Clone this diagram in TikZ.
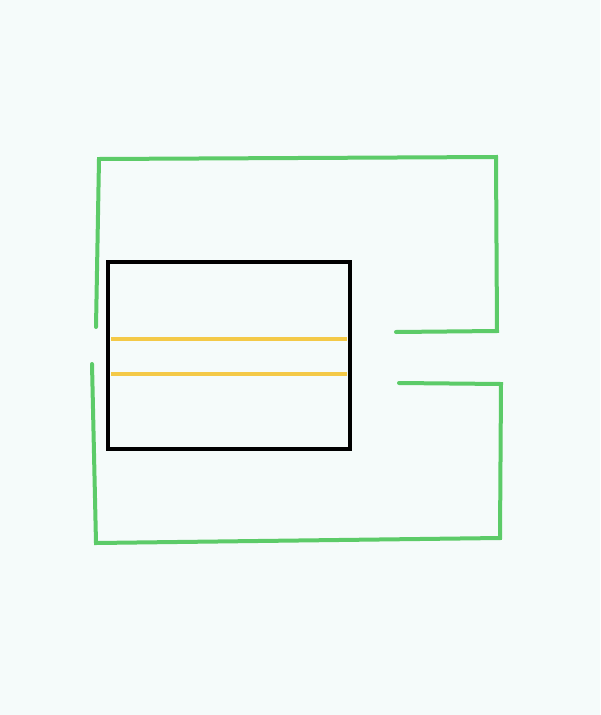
\documentclass[tikz,border=0pt]{standalone}
\begin{document}
\begin{tikzpicture}[x=1pt,y=-1pt,
  wire/.style={draw=wiregreen,line width=4pt,line cap=round,line join=miter},
  core/.style={draw=black,line width=4pt},
  coil/.style={draw=coilyellow,line width=4pt}]
\definecolor{wiregreen}{HTML}{5CCB68}
\definecolor{coilyellow}{HTML}{F4C947}
\definecolor{bg}{HTML}{F5FBFA}
\fill[bg] (0,0) rectangle (600,715);
\useasboundingbox (0,0) rectangle (600,715);
% upper green path
\coordinate (u1) at (96,327);
\coordinate (u2) at (99,159);
\coordinate (u3) at (496,157);
\coordinate (u4) at (497,331);
\coordinate (u5) at (396,332);
\draw[wire] (u1) -- (u2) -- (u3) -- (u4) -- (u5);
% lower green path
\coordinate (l1) at (399,383);
\coordinate (l2) at (501,384);
\coordinate (l3) at (500,538);
\coordinate (l4) at (96,543);
\coordinate (l5) at (92,364);
\draw[wire] (l1) -- (l2) -- (l3) -- (l4) -- (l5);
% black box
\node[core,minimum width=242pt,minimum height=187pt,inner sep=0pt,outer sep=0pt,anchor=north west] (box) at (108,262) {};
% yellow lines
\coordinate (y1a) at (111,339);
\coordinate (y1b) at (347,339);
\coordinate (y2a) at (111,374);
\coordinate (y2b) at (347,374);
\draw[coil] (y1a) -- (y1b);
\draw[coil] (y2a) -- (y2b);
\end{tikzpicture}
\end{document}
